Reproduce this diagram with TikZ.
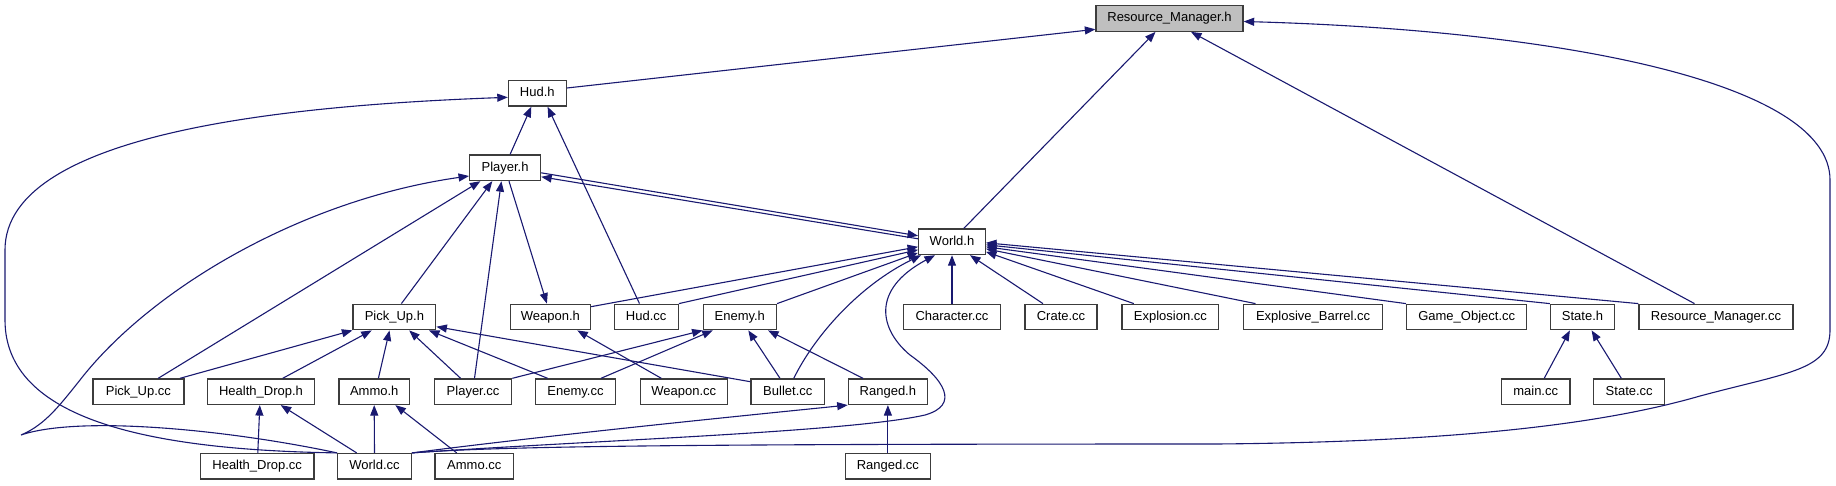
\documentclass[tikz,border=0pt]{standalone}
\usepackage{fontspec}
\setmainfont{Liberation Sans}
\usetikzlibrary{arrows.meta}
\definecolor{edgec}{HTML}{191970}
\definecolor{boxc}{HTML}{3C3C3C}
\tikzset{
  fnode/.style={draw=boxc, line width=1.3pt, fill=white, rectangle, inner sep=0pt,
    minimum height=25.5pt, font=\fontsize{13}{15}\selectfont, text height=9.5pt, text depth=2.7pt},
  rootnode/.style={fnode, fill=black!25},
  edge/.style={draw=edgec, line width=1.1pt, -{Triangle[length=10.5pt,width=8pt]}}
}
\begin{document}
\begin{tikzpicture}[x=1pt,y=-1pt]
\useasboundingbox (0,0) rectangle (1836,485);
% row 0-2
\node[rootnode, minimum width=147pt] (rmh) at (1169.5,18.5) {Resource\_Manager.h};
\node[fnode, minimum width=57.7pt] (hudh) at (537.3,93.3) {Hud.h};
\node[fnode, minimum width=70.8pt] (playerh) at (505.1,167.8) {Player.h};
\node[fnode, minimum width=66.6pt] (worldh) at (952,241.8) {World.h};
% row 3
\node[fnode, minimum width=82.7pt] (pickuph) at (394.4,317) {Pick\_Up.h};
\node[fnode, minimum width=79.8pt] (weaponh) at (550.4,317) {Weapon.h};
\node[fnode, minimum width=64.1pt] (hudcc) at (646.2,317) {Hud.cc};
\node[fnode, minimum width=73.2pt] (enemyh) at (739.8,317) {Enemy.h};
\node[fnode, minimum width=97.3pt] (charactercc) at (952,317) {Character.cc};
\node[fnode, minimum width=72pt] (cratecc) at (1061,317) {Crate.cc};
\node[fnode, minimum width=96.8pt] (explosioncc) at (1170.4,317) {Explosion.cc};
\node[fnode, minimum width=138.8pt] (explbarrelcc) at (1313.1,317) {Explosive\_Barrel.cc};
\node[fnode, minimum width=120.2pt] (gameobjcc) at (1466.7,317) {Game\_Object.cc};
\node[fnode, minimum width=64.1pt] (stateh) at (1582.5,317) {State.h};
\node[fnode, minimum width=154pt] (rmcc) at (1716,317) {Resource\_Manager.cc};
% row 4
\node[fnode, minimum width=91pt] (pickupcc) at (138.4,391.7) {Pick\_Up.cc};
\node[fnode, minimum width=106.8pt] (healthdroph) at (261,391.7) {Health\_Drop.h};
\node[fnode, minimum width=70.7pt] (ammoh) at (374.2,391.7) {Ammo.h};
\node[fnode, minimum width=77.1pt] (playercc) at (473.1,391.7) {Player.cc};
\node[fnode, minimum width=79.5pt] (enemycc) at (575.5,391.7) {Enemy.cc};
\node[fnode, minimum width=87pt] (weaponcc) at (683.8,391.7) {Weapon.cc};
\node[fnode, minimum width=73.6pt] (bulletcc) at (787.8,391.7) {Bullet.cc};
\node[fnode, minimum width=79.1pt] (rangedh) at (887.9,391.7) {Ranged.h};
\node[fnode, minimum width=68.4pt] (maincc) at (1535.7,391.7) {main.cc};
\node[fnode, minimum width=71.2pt] (statecc) at (1629.2,391.7) {State.cc};
% row 5
\node[fnode, minimum width=113.5pt] (healthdropcc) at (257.2,466.3) {Health\_Drop.cc};
\node[fnode, minimum width=73.5pt] (worldcc) at (374.5,466.3) {World.cc};
\node[fnode, minimum width=78.6pt] (ammocc) at (474.3,466.3) {Ammo.cc};
\node[fnode, minimum width=85.4pt] (rangedcc) at (887.9,466.3) {Ranged.cc};

% edges to Resource_Manager.h
\draw[edge] ([yshift=5.3]hudh.east) -- ([yshift=-10.8]rmh.west);
\draw[edge] ([xshift=11.8]worldh.north) -- ([xshift=-14]rmh.south);
\draw[edge] ([xshift=-21.5]rmcc.north) -- ([xshift=21.5]rmh.south);
\draw[edge] (worldcc.north east) .. controls (500,446) and (700,444) .. (1216,444)
  .. controls (1450,442) and (1600,425) .. (1700,396)
  .. controls (1790,372) and (1830,370) .. (1830,330) -- (1830,180)
  .. controls (1830,80) and (1550,30) .. ([yshift=-3]rmh.east);
% edges to Hud.h
\draw[edge] ([xshift=5]playerh.north) -- ([xshift=-6]hudh.south);
\draw[edge] ([xshift=-6.7]hudcc.north) -- ([xshift=10.3]hudh.south);
\draw[edge] (worldcc.north west) .. controls (150,450) and (5,420) .. (5,320) -- (5,250)
  .. controls (5,130) and (300,105) .. ([yshift=-4]hudh.west);
% Player.h <-> World.h
\draw[edge] ([yshift=-5]playerh.east) -- ([yshift=6]worldh.west);
\draw[edge] ([yshift=3]worldh.west) -- ([yshift=-9]playerh.east);
% edges to Player.h
\draw[edge] ([xshift=7]pickuph.north) -- ([xshift=-12.8]playerh.south);
\draw[edge] ([xshift=1.4]playercc.north) -- ([xshift=-3.7]playerh.south);
\draw[edge] ([xshift=19.8]pickupcc.north) -- ([xshift=-24.7]playerh.south);
\draw[edge] (worldcc.north west) .. controls (230,430) and (80,415) .. (21,435)
  .. controls (45,425) and (60,405) .. (80,380)
  .. controls (150,290) and (300,200) .. ([yshift=-8.2]playerh.west);
% edges to World.h
\draw[edge] ([yshift=10.3]weaponh.east) -- ([yshift=-5]worldh.west);
\draw[edge] (hudcc.north east) -- ([yshift=-8]worldh.west);
\draw[edge] (enemyh.north east) -- ([yshift=-11]worldh.west);
\draw[edge] ([xshift=6]bulletcc.north) .. controls (815,335) and (860,285) .. ([xshift=3]worldh.south west);
\draw[edge] (worldcc.north east) .. controls (600,440) and (850,432) .. (925,415)
  .. controls (960,405) and (945,380) .. (910,355)
  .. controls (880,330) and (870,290) .. ([xshift=-17]worldh.south);
\draw[edge] (charactercc.north) -- (worldh.south);
\draw[edge] ([xshift=-18]cratecc.north) -- ([xshift=18]worldh.south);
\draw[edge] ([xshift=-36.6]explosioncc.north) -- ([yshift=-10]worldh.east);
\draw[edge] ([xshift=-57.6]explbarrelcc.north) -- ([yshift=-7]worldh.east);
\draw[edge] (gameobjcc.north west) -- ([yshift=-5]worldh.east);
\draw[edge] (stateh.north west) -- ([yshift=-3]worldh.east);
\draw[edge] (rmcc.north west) -- ([yshift=-1]worldh.east);
% edges to Pick_Up.h
\draw[edge] ([xshift=41.6]pickupcc.north) -- (pickuph.south west);
\draw[edge] ([xshift=21.7]healthdroph.north) -- ([xshift=-22.7]pickuph.south);
\draw[edge] ([xshift=4.2]ammoh.north) -- ([xshift=-4.9]pickuph.south);
\draw[edge] ([xshift=-12.5]playercc.north) -- ([xshift=14.8]pickuph.south);
\draw[edge] ([xshift=-27.9]enemycc.north) -- ([xshift=34.6]pickuph.south);
\draw[edge] ([yshift=10]bulletcc.west) -- ([yshift=-9.7]pickuph.east);
% edges to Enemy.h
\draw[edge] (playercc.north east) -- (enemyh.south west);
\draw[edge] ([xshift=25.5]enemycc.north) -- ([xshift=-27]enemyh.south);
\draw[edge] ([xshift=-7.8]bulletcc.north) -- ([xshift=8.5]enemyh.south);
\draw[edge] ([xshift=-24.9]rangedh.north) -- ([xshift=28.2]enemyh.south);
% edges to Weapon.h
\draw[edge] ([xshift=-22.5]weaponcc.north) -- ([xshift=26.9]weaponh.south);
\draw[edge] ([xshift=3.9]playerh.south) -- ([xshift=-3.5]weaponh.north);
% Health_Drop.h
\draw[edge] ([xshift=0.6]healthdropcc.north) -- ([xshift=-1.2]healthdroph.south);
\draw[edge] ([xshift=-17.8]worldcc.north) -- ([xshift=19.7]healthdroph.south);
% Ammo.h
\draw[edge] (worldcc.north) -- (ammoh.south);
\draw[edge] ([xshift=-17.6]ammocc.north) -- ([xshift=21.2]ammoh.south);
% Ranged.h
\draw[edge] (rangedcc.north) -- (rangedh.south);
\draw[edge] (worldcc.north east) .. controls (550,435) and (750,415) .. (rangedh.south west);
% State.h
\draw[edge] ([xshift=8.5]maincc.north) -- ([xshift=-12.6]stateh.south);
\draw[edge] ([xshift=-7.9]statecc.north) -- ([xshift=9.1]stateh.south);
\end{tikzpicture}
\end{document}
